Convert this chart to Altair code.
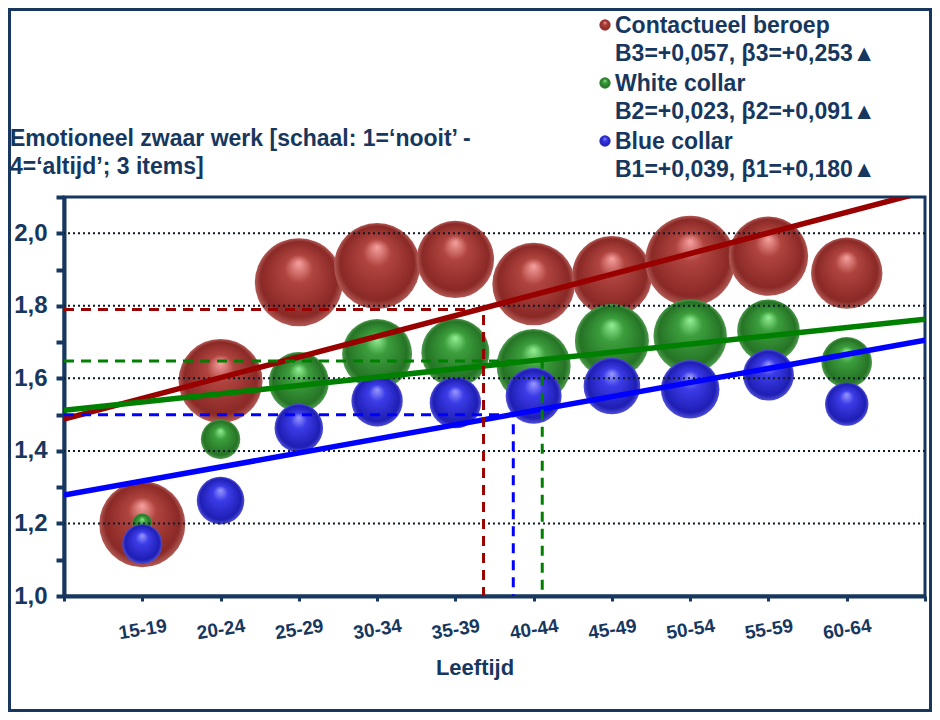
import altair as alt
import pandas as pd

# ---------------- data ----------------
ages = ["15-19", "20-24", "25-29", "30-34", "35-39", "40-44", "45-49", "50-54", "55-59", "60-64"]
positions = list(range(1, 11))

series_names = ["Contactueel beroep", "White collar", "Blue collar"]

contact_vals = [1.198, 1.593, 1.865, 1.910, 1.928, 1.860, 1.882, 1.924, 1.937, 1.890]
white_vals = [1.200, 1.432, 1.590, 1.667, 1.671, 1.634, 1.703, 1.717, 1.731, 1.644]
blue_vals = [1.143, 1.263, 1.463, 1.538, 1.533, 1.552, 1.579, 1.570, 1.609, 1.529]

# bubble weights (relative group sizes)
contact_n = [1849, 1764, 1936, 1849, 1498, 1706, 1600, 2025, 1576, 1274]
white_n = [100, 388, 900, 1225, 1156, 1369, 1369, 1347, 980, 640]
blue_n = [400, 566, 590, 660, 660, 784, 801, 858, 650, 471]

# regression lines (end points at x = 0 and x = 11)
trend_x = [0, 11]
contact_trend = [1.488, 2.115]
white_trend = [1.512, 1.763]
blue_trend = [1.278, 1.705]

# mean reference (dashed) lines: x position and y value per series
ref_x = [5.36, 6.11, 5.74]
ref_y = [1.79, 1.648, 1.50]

legend_lines = [
    ("Contactueel beroep", "B3=+0,057, \u03b23=+0,253\u25b2"),
    ("White collar", "B2=+0,023, \u03b22=+0,091\u25b2"),
    ("Blue collar", "B1=+0,039, \u03b21=+0,180\u25b2"),
]
title_lines = ["Emotioneel zwaar werk [schaal: 1=\u2018nooit\u2019 -", "4=\u2018altijd\u2019; 3 items]"]
x_title = "Leeftijd"

grid_values = [1.2, 1.4, 1.6, 1.8, 2.0]
y_min, y_max = 1.0, 2.1
y_ticks = [1.0, 1.1, 1.2, 1.3, 1.4, 1.5, 1.6, 1.7, 1.8, 1.9, 2.0, 2.1]

# ---------------- styles ----------------
NAVY = "#17375E"
FONT = "Liberation Sans, Arial, sans-serif"
line_colors = ["#990000", "#008000", "#0000FF"]

sphere_colors = {
    "Contactueel beroep": ("#F7A2A0", "#B0443F", "#8A2926", "#B25A56"),
    "White collar": ("#95F095", "#3C9E3C", "#257325", "#4E9A4E"),
    "Blue collar": ("#9A9AFF", "#3C3CE8", "#1E1EB4", "#5050D8"),
}


def sphere(name):
    light, base, dark, edge = sphere_colors[name]
    return alt.Gradient(
        gradient="radial",
        x1=0.5, y1=0.28, r1=0.0,
        x2=0.5, y2=0.5, r2=0.5,
        stops=[
            alt.GradientStop(color=light, offset=0.0),
            alt.GradientStop(color=base, offset=0.32),
            alt.GradientStop(color=dark, offset=0.86),
            alt.GradientStop(color=edge, offset=1.0),
        ],
    )


label_array = "[''," + ",".join("'" + a + "'" for a in ages) + ",'']"

x_axis = alt.Axis(
    values=list(range(0, 12)),
    labelExpr=label_array + "[round(datum.value)]",
    title=None,
    grid=False,
    domainColor=NAVY, domainWidth=4,
    tickColor=NAVY, tickWidth=3, tickSize=5,
    labelColor=NAVY, labelFont=FONT, labelFontWeight="bold", labelFontSize=19,
    labelAngle=351, labelAlign="center", labelBaseline="middle", labelPadding=28,
)
y_axis = alt.Axis(
    values=y_ticks,
    labelExpr="round(datum.value*10) % 2 == 0 && datum.value < 2.05 ? replace(format(datum.value, '.1f'), '.', ',') : ''",
    title=None,
    grid=False,
    domainColor=NAVY, domainWidth=4,
    tickColor=NAVY, tickWidth=4, tickSize=8,
    labelColor=NAVY, labelFont=FONT, labelFontWeight="bold", labelFontSize=24,
    labelPadding=9,
)

x_enc = alt.X("x:Q", scale=alt.Scale(domain=[0, 11], nice=False, zero=False), axis=x_axis)
y_enc = alt.Y("y:Q", scale=alt.Scale(domain=[y_min, y_max], nice=False, zero=False), axis=y_axis)
size_enc = alt.Size("n:Q", scale=alt.Scale(domain=[0, 2025], range=[0, 8100]), legend=None)
color_enc = alt.Color("series:N", scale=alt.Scale(domain=series_names, range=line_colors), legend=None)

# ---------------- data frames ----------------
bubble_rows = []
for name, vals, ns in zip(series_names, [contact_vals, white_vals, blue_vals], [contact_n, white_n, blue_n]):
    for p, v, n in zip(positions, vals, ns):
        bubble_rows.append({"series": name, "x": p, "y": v, "n": n})
bubbles = pd.DataFrame(bubble_rows)

trend_rows = []
for name, ys in zip(series_names, [contact_trend, white_trend, blue_trend]):
    for x, y in zip(trend_x, ys):
        trend_rows.append({"series": name, "x": x, "y": y})
trend_df = pd.DataFrame(trend_rows)

ref_rows = []
for name, rx, ry in zip(series_names, ref_x, ref_y):
    ref_rows.append({"series": name, "step": 0, "x": 0, "y": ry})
    ref_rows.append({"series": name, "step": 1, "x": rx, "y": ry})
    ref_rows.append({"series": name, "step": 2, "x": rx, "y": y_min})
ref_df = pd.DataFrame(ref_rows)

grid_df = pd.DataFrame({"y": grid_values})
one = pd.DataFrame({"a": [0]})

# ---------------- layers ----------------
layers = []
for name in series_names:
    layers.append(
        alt.Chart(bubbles)
        .transform_filter(alt.datum.series == name)
        .mark_circle(fill=sphere(name), opacity=1, strokeWidth=0)
        .encode(x=x_enc, y=y_enc, size=size_enc)
    )

grid = alt.Chart(grid_df).mark_rule(color="#0B1A2A", strokeWidth=2, strokeDash=[2, 3]).encode(
    y=alt.Y("y:Q", scale=alt.Scale(domain=[y_min, y_max], nice=False, zero=False), axis=y_axis)
)
layers.append(grid)

trend = alt.Chart(trend_df).mark_line(strokeWidth=5.5, clip=True).encode(x=x_enc, y=y_enc, color=color_enc)
layers.append(trend)

refs = alt.Chart(ref_df).mark_line(strokeWidth=3, strokeDash=[10, 7]).encode(
    x=x_enc, y=y_enc, color=color_enc, order=alt.Order("step:Q")
)
layers.append(refs)


def label(text, x, y, size=23, align="left"):
    return alt.Chart(one).mark_text(
        text=text, align=align, baseline="middle", font=FONT, fontWeight="bold",
        fontSize=size, color=NAVY,
    ).encode(x=alt.value(x), y=alt.value(y))


# y title (two lines, top-left)
layers.append(label(title_lines[0], -54, -58))
layers.append(label(title_lines[1], -54, -30))

# custom legend
legend_y = [-171, -113, -55]
for (head, stats), ly, name in zip(legend_lines, legend_y, series_names):
    layers.append(
        alt.Chart(one).mark_circle(fill=sphere(name), opacity=1, size=130, strokeWidth=0)
        .encode(x=alt.value(541), y=alt.value(ly - 1))
    )
    layers.append(label(head, 551, ly))
    layers.append(label(stats, 551, ly + 28))

# x title
layers.append(label(x_title, 411, 471, size=22, align="center"))

# outer frame
layers.append(
    alt.Chart(one).mark_rect(fill="white", fillOpacity=0, stroke=NAVY, strokeWidth=3)
    .encode(x=alt.value(-54.5), x2=alt.value(866.5), y=alt.value(-187.5), y2=alt.value(513.5))
)

chart = (
    alt.layer(*layers)
    .properties(
        width=861,
        height=399,
        padding={"left": 56, "top": 189, "right": 7, "bottom": 116},
        autosize=alt.AutoSizeParams(type="none"),
        background="white",
    )
    .configure_view(stroke=NAVY, strokeWidth=3)
)

chart.save("out.html", embed_options={"renderer": "svg", "actions": False})
